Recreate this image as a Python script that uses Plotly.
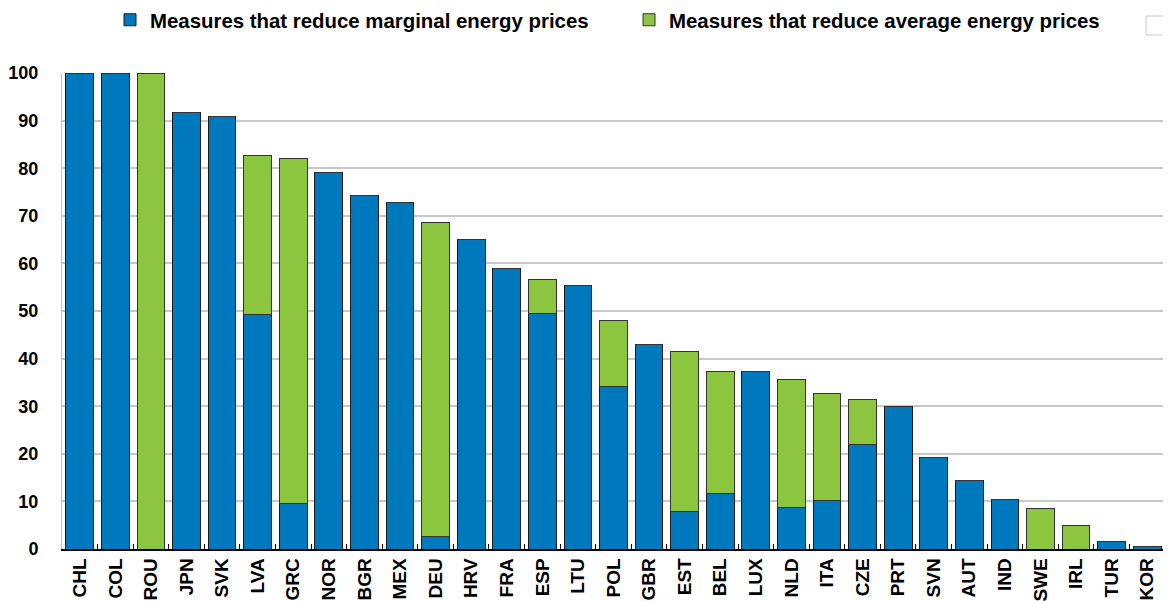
import plotly.graph_objects as go

countries = ["CHL", "COL", "ROU", "JPN", "SVK", "LVA", "GRC", "NOR", "BGR", "MEX",
             "DEU", "HRV", "FRA", "ESP", "LTU", "POL", "GBR", "EST", "BEL", "LUX",
             "NLD", "ITA", "CZE", "PRT", "SVN", "AUT", "IND", "SWE", "IRL", "TUR", "KOR"]
marginal = [100, 100, 0, 91.8, 90.9, 49.2, 9.6, 79.1, 74.3, 72.8,
            2.6, 65.0, 58.9, 49.4, 55.3, 34.2, 42.9, 7.8, 11.7, 37.2,
            8.8, 10.1, 22.0, 29.9, 19.3, 14.4, 10.5, 0, 0, 1.5, 0.6]
average = [0, 0, 100, 0, 0, 33.4, 72.5, 0, 0, 0,
           65.9, 0, 0, 7.3, 0, 13.8, 0, 33.7, 25.5, 0,
           26.9, 22.5, 9.5, 0, 0, 0, 0, 8.5, 4.9, 0, 0]
y_ticks = [0, 10, 20, 30, 40, 50, 60, 70, 80, 90, 100]

BLUE = "#0078BE"
GREEN = "#8CC63F"
FONT = "Liberation Sans, Arial, sans-serif"

# page body has an 8px margin; figure is offset by (8, 8)
W, H = 1163, 593
L, R, T, B = 54, 6, 65, 52
PW, PH = W - L - R, H - T - B

fig = go.Figure()
fig.add_trace(go.Bar(x=countries, y=marginal, name="Measures that reduce marginal energy prices",
                     marker=dict(color=BLUE, line=dict(color="#1a1a1a", width=1))))
fig.add_trace(go.Bar(x=countries, y=average, name="Measures that reduce average energy prices",
                     marker=dict(color=GREEN, line=dict(color="#333333", width=1))))

fig.update_layout(
    barmode="stack",
    bargap=0.22,
    width=W, height=H,
    margin=dict(l=L, r=R, t=T, b=B, autoexpand=False),
    paper_bgcolor="white", plot_bgcolor="white",
    font=dict(family=FONT, size=20, color="black"),
    legend=dict(orientation="h", x=(110 - 62) / PW, xanchor="left",
                y=(549 - 20) / PH, yref="paper", yanchor="middle",
                font=dict(family=FONT, size=20.4, color="black", weight="bold"),
                traceorder="normal", itemwidth=30, entrywidth=474,
                bgcolor="rgba(0,0,0,0)"),
    showlegend=True,
)
fig.update_xaxes(
    type="category", tickangle=-90,
    tickfont=dict(family=FONT, size=19, color="black", weight="bold"),
    showline=True, linecolor="black", linewidth=1.5,
    ticks="inside", tickson="boundaries", ticklen=5, tickcolor="black", tickwidth=1,
    showgrid=False, automargin=False,
)
fig.update_yaxes(
    range=[0, 100], tickvals=y_ticks,
    tickfont=dict(family=FONT, size=18, color="black", weight="bold"),
    showgrid=True, gridcolor="#c8c8c8", gridwidth=1.5,
    showline=True, linecolor="#c0c0c0", linewidth=1,
    ticks="", ticklabelstandoff=19, zeroline=False, automargin=False,
)
fig.add_shape(type="rect", xref="paper", yref="paper",
              x0=(1146 - 62) / PW, x1=(1168 - 62) / PW,
              y0=(549 - 35) / PH, y1=(549 - 16) / PH,
              line=dict(color="#c8c8c8", width=1), fillcolor="white")

fig.write_html("out.html")
